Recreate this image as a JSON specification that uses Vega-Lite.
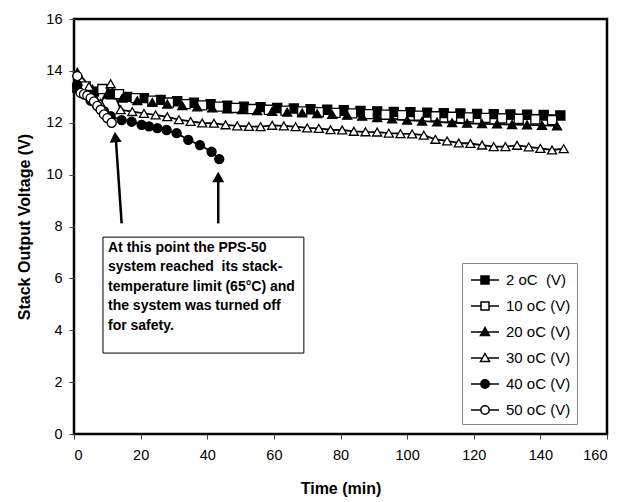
{
  "$schema": "https://vega.github.io/schema/vega-lite/v6.json",
  "width": 533,
  "height": 415,
  "autosize": {"type": "none"},
  "padding": {"left": 74, "top": 19, "right": 27, "bottom": 68},
  "background": "white",
  "config": {
    "font": "Liberation Sans",
    "view": {"stroke": "black", "strokeWidth": 2.5},
    "axis": {
      "grid": false,
      "domain": false,
      "labelFont": "Liberation Sans",
      "labelFontSize": 14.5,
      "labelColor": "black",
      "tickColor": "#444",
      "tickSize": 5,
      "titleFont": "Liberation Sans",
      "titleFontSize": 16,
      "titleFontWeight": "bold",
      "titleColor": "black"
    }
  },
  "datasets": {
    "series": [
      {"s": "2 oC\u00a0 (V)", "t": 1, "v": 13.35},
      {"s": "2 oC\u00a0 (V)", "t": 6, "v": 13.2},
      {"s": "2 oC\u00a0 (V)", "t": 11, "v": 13.1},
      {"s": "2 oC\u00a0 (V)", "t": 16, "v": 13.0},
      {"s": "2 oC\u00a0 (V)", "t": 21, "v": 12.95},
      {"s": "2 oC\u00a0 (V)", "t": 26, "v": 12.88},
      {"s": "2 oC\u00a0 (V)", "t": 31, "v": 12.83},
      {"s": "2 oC\u00a0 (V)", "t": 36, "v": 12.77},
      {"s": "2 oC\u00a0 (V)", "t": 41, "v": 12.72},
      {"s": "2 oC\u00a0 (V)", "t": 46, "v": 12.66},
      {"s": "2 oC\u00a0 (V)", "t": 51, "v": 12.62},
      {"s": "2 oC\u00a0 (V)", "t": 56, "v": 12.6},
      {"s": "2 oC\u00a0 (V)", "t": 61, "v": 12.57},
      {"s": "2 oC\u00a0 (V)", "t": 66, "v": 12.55},
      {"s": "2 oC\u00a0 (V)", "t": 71, "v": 12.52},
      {"s": "2 oC\u00a0 (V)", "t": 76, "v": 12.5},
      {"s": "2 oC\u00a0 (V)", "t": 81, "v": 12.48},
      {"s": "2 oC\u00a0 (V)", "t": 86, "v": 12.46},
      {"s": "2 oC\u00a0 (V)", "t": 91, "v": 12.44},
      {"s": "2 oC\u00a0 (V)", "t": 96, "v": 12.42},
      {"s": "2 oC\u00a0 (V)", "t": 101, "v": 12.41},
      {"s": "2 oC\u00a0 (V)", "t": 106, "v": 12.39},
      {"s": "2 oC\u00a0 (V)", "t": 111, "v": 12.37},
      {"s": "2 oC\u00a0 (V)", "t": 116, "v": 12.36},
      {"s": "2 oC\u00a0 (V)", "t": 121, "v": 12.34},
      {"s": "2 oC\u00a0 (V)", "t": 126, "v": 12.33},
      {"s": "2 oC\u00a0 (V)", "t": 131, "v": 12.32},
      {"s": "2 oC\u00a0 (V)", "t": 136, "v": 12.31},
      {"s": "2 oC\u00a0 (V)", "t": 141, "v": 12.3},
      {"s": "2 oC\u00a0 (V)", "t": 146, "v": 12.28},
      {"s": "10 oC (V)", "t": 3.5, "v": 13.4},
      {"s": "10 oC (V)", "t": 8.5, "v": 13.3},
      {"s": "10 oC (V)", "t": 13.5, "v": 13.1},
      {"s": "10 oC (V)", "t": 18.5, "v": 12.95},
      {"s": "10 oC (V)", "t": 23.5, "v": 12.85},
      {"s": "10 oC (V)", "t": 28.5, "v": 12.78},
      {"s": "10 oC (V)", "t": 33.5, "v": 12.72},
      {"s": "10 oC (V)", "t": 38.5, "v": 12.67},
      {"s": "10 oC (V)", "t": 43.5, "v": 12.62},
      {"s": "10 oC (V)", "t": 48.5, "v": 12.57},
      {"s": "10 oC (V)", "t": 53.5, "v": 12.53},
      {"s": "10 oC (V)", "t": 58.5, "v": 12.5},
      {"s": "10 oC (V)", "t": 63.5, "v": 12.47},
      {"s": "10 oC (V)", "t": 68.5, "v": 12.44},
      {"s": "10 oC (V)", "t": 73.5, "v": 12.41},
      {"s": "10 oC (V)", "t": 78.5, "v": 12.38},
      {"s": "10 oC (V)", "t": 83.5, "v": 12.36},
      {"s": "10 oC (V)", "t": 88.5, "v": 12.33},
      {"s": "10 oC (V)", "t": 93.5, "v": 12.31},
      {"s": "10 oC (V)", "t": 98.5, "v": 12.29},
      {"s": "10 oC (V)", "t": 103.5, "v": 12.27},
      {"s": "10 oC (V)", "t": 108.5, "v": 12.25},
      {"s": "10 oC (V)", "t": 113.5, "v": 12.23},
      {"s": "10 oC (V)", "t": 118.5, "v": 12.21},
      {"s": "10 oC (V)", "t": 123.5, "v": 12.19},
      {"s": "10 oC (V)", "t": 128.5, "v": 12.17},
      {"s": "10 oC (V)", "t": 133.5, "v": 12.15},
      {"s": "10 oC (V)", "t": 138.5, "v": 12.13},
      {"s": "10 oC (V)", "t": 143.5, "v": 12.1},
      {"s": "20 oC (V)", "t": 1, "v": 13.95},
      {"s": "20 oC (V)", "t": 5.5, "v": 13.3},
      {"s": "20 oC (V)", "t": 10, "v": 13.1},
      {"s": "20 oC (V)", "t": 14.5, "v": 12.95},
      {"s": "20 oC (V)", "t": 19, "v": 12.85},
      {"s": "20 oC (V)", "t": 23.5, "v": 12.78},
      {"s": "20 oC (V)", "t": 28, "v": 12.72},
      {"s": "20 oC (V)", "t": 32.5, "v": 12.66},
      {"s": "20 oC (V)", "t": 37, "v": 12.61},
      {"s": "20 oC (V)", "t": 41.5, "v": 12.57},
      {"s": "20 oC (V)", "t": 46, "v": 12.53},
      {"s": "20 oC (V)", "t": 50.5, "v": 12.5},
      {"s": "20 oC (V)", "t": 55, "v": 12.47},
      {"s": "20 oC (V)", "t": 59.5, "v": 12.44},
      {"s": "20 oC (V)", "t": 64, "v": 12.41},
      {"s": "20 oC (V)", "t": 68.5, "v": 12.38},
      {"s": "20 oC (V)", "t": 73, "v": 12.35},
      {"s": "20 oC (V)", "t": 77.5, "v": 12.32},
      {"s": "20 oC (V)", "t": 82, "v": 12.29},
      {"s": "20 oC (V)", "t": 86.5, "v": 12.25},
      {"s": "20 oC (V)", "t": 91, "v": 12.2},
      {"s": "20 oC (V)", "t": 95.5, "v": 12.15},
      {"s": "20 oC (V)", "t": 100, "v": 12.1},
      {"s": "20 oC (V)", "t": 104.5, "v": 12.06},
      {"s": "20 oC (V)", "t": 109, "v": 12.03},
      {"s": "20 oC (V)", "t": 113.5, "v": 12.0},
      {"s": "20 oC (V)", "t": 118, "v": 11.98},
      {"s": "20 oC (V)", "t": 122.5, "v": 11.96},
      {"s": "20 oC (V)", "t": 127, "v": 11.95},
      {"s": "20 oC (V)", "t": 131.5, "v": 11.93},
      {"s": "20 oC (V)", "t": 136, "v": 11.92},
      {"s": "20 oC (V)", "t": 140.5, "v": 11.9},
      {"s": "20 oC (V)", "t": 145, "v": 11.88},
      {"s": "30 oC (V)", "t": 1, "v": 13.6},
      {"s": "30 oC (V)", "t": 4.5, "v": 13.4},
      {"s": "30 oC (V)", "t": 8, "v": 12.75},
      {"s": "30 oC (V)", "t": 11, "v": 13.5},
      {"s": "30 oC (V)", "t": 14, "v": 12.5},
      {"s": "30 oC (V)", "t": 17.5, "v": 12.43},
      {"s": "30 oC (V)", "t": 21, "v": 12.36},
      {"s": "30 oC (V)", "t": 24.5, "v": 12.3},
      {"s": "30 oC (V)", "t": 28, "v": 12.23},
      {"s": "30 oC (V)", "t": 31.5, "v": 12.12},
      {"s": "30 oC (V)", "t": 35, "v": 12.05},
      {"s": "30 oC (V)", "t": 38.5, "v": 11.99},
      {"s": "30 oC (V)", "t": 42, "v": 11.98},
      {"s": "30 oC (V)", "t": 45.5, "v": 11.92},
      {"s": "30 oC (V)", "t": 49, "v": 11.88},
      {"s": "30 oC (V)", "t": 52.5, "v": 11.86},
      {"s": "30 oC (V)", "t": 56, "v": 11.85},
      {"s": "30 oC (V)", "t": 59.5, "v": 11.9},
      {"s": "30 oC (V)", "t": 63, "v": 11.88},
      {"s": "30 oC (V)", "t": 66.5, "v": 11.85},
      {"s": "30 oC (V)", "t": 70, "v": 11.8},
      {"s": "30 oC (V)", "t": 73.5, "v": 11.78},
      {"s": "30 oC (V)", "t": 77, "v": 11.73},
      {"s": "30 oC (V)", "t": 80.5, "v": 11.72},
      {"s": "30 oC (V)", "t": 84, "v": 11.67},
      {"s": "30 oC (V)", "t": 87.5, "v": 11.65},
      {"s": "30 oC (V)", "t": 91, "v": 11.64},
      {"s": "30 oC (V)", "t": 94.5, "v": 11.6},
      {"s": "30 oC (V)", "t": 98, "v": 11.58},
      {"s": "30 oC (V)", "t": 101.5, "v": 11.57},
      {"s": "30 oC (V)", "t": 105, "v": 11.52},
      {"s": "30 oC (V)", "t": 108.5, "v": 11.36},
      {"s": "30 oC (V)", "t": 112, "v": 11.3},
      {"s": "30 oC (V)", "t": 115.5, "v": 11.22},
      {"s": "30 oC (V)", "t": 119, "v": 11.2},
      {"s": "30 oC (V)", "t": 122.5, "v": 11.14},
      {"s": "30 oC (V)", "t": 126, "v": 11.08},
      {"s": "30 oC (V)", "t": 129.5, "v": 11.08},
      {"s": "30 oC (V)", "t": 133, "v": 11.13},
      {"s": "30 oC (V)", "t": 136.5, "v": 11.07},
      {"s": "30 oC (V)", "t": 140, "v": 11.01},
      {"s": "30 oC (V)", "t": 143.5, "v": 10.95},
      {"s": "30 oC (V)", "t": 147, "v": 11.0},
      {"s": "40 oC (V)", "t": 1, "v": 13.45},
      {"s": "40 oC (V)", "t": 3, "v": 13.1},
      {"s": "40 oC (V)", "t": 5, "v": 12.85},
      {"s": "40 oC (V)", "t": 7, "v": 12.65},
      {"s": "40 oC (V)", "t": 9, "v": 12.45},
      {"s": "40 oC (V)", "t": 11, "v": 12.25},
      {"s": "40 oC (V)", "t": 14.3, "v": 12.1},
      {"s": "40 oC (V)", "t": 17.3, "v": 12.04},
      {"s": "40 oC (V)", "t": 20.3, "v": 11.92},
      {"s": "40 oC (V)", "t": 22.5, "v": 11.86},
      {"s": "40 oC (V)", "t": 25, "v": 11.79},
      {"s": "40 oC (V)", "t": 27.8, "v": 11.72},
      {"s": "40 oC (V)", "t": 30.8, "v": 11.6},
      {"s": "40 oC (V)", "t": 34.3, "v": 11.34},
      {"s": "40 oC (V)", "t": 37.8, "v": 11.14},
      {"s": "40 oC (V)", "t": 41.3, "v": 10.88},
      {"s": "40 oC (V)", "t": 43.6, "v": 10.6},
      {"s": "50 oC (V)", "t": 1, "v": 13.8},
      {"s": "50 oC (V)", "t": 2, "v": 13.15},
      {"s": "50 oC (V)", "t": 3, "v": 13.1},
      {"s": "50 oC (V)", "t": 4, "v": 13.05},
      {"s": "50 oC (V)", "t": 5, "v": 12.95},
      {"s": "50 oC (V)", "t": 6, "v": 12.82},
      {"s": "50 oC (V)", "t": 7, "v": 12.65},
      {"s": "50 oC (V)", "t": 8, "v": 12.5},
      {"s": "50 oC (V)", "t": 9, "v": 12.32},
      {"s": "50 oC (V)", "t": 10, "v": 12.18},
      {"s": "50 oC (V)", "t": 11.3, "v": 12.0}
    ],
    "arrows": [
      {"t": 14.3, "v": 8.12, "t2": 12.6, "v2": 11.3},
      {"t": 43.3, "v": 8.12, "t2": 43.3, "v2": 9.8}
    ],
    "heads": [
      {"t": 12.4, "v": 11.45, "a": -4.2},
      {"t": 43.3, "v": 9.91, "a": 0}
    ],
    "note": [
      {"t": 8.7, "v": 7.59, "t2": 69, "v2": 3.12, "tx": 10.2, "ty": 7.45}
    ]
  },
  "layer": [
    {
      "data": {"name": "note"},
      "mark": {"type": "rect", "fill": "white", "stroke": "black", "strokeWidth": 1},
      "encoding": {
        "x": {"field": "t", "type": "quantitative", "scale": {"domain": [0, 160], "nice": false}, "axis": {"values": [0, 20, 40, 60, 80, 100, 120, 140, 160], "title": "Time (min)", "titlePadding": 19, "labelPadding": 9}},
        "x2": {"field": "t2"},
        "y": {"field": "v", "type": "quantitative", "scale": {"domain": [0, 16], "nice": false}, "axis": {"values": [0, 2, 4, 6, 8, 10, 12, 14, 16], "title": "Stack Output Voltage (V)", "titlePadding": 13, "labelPadding": 7}},
        "y2": {"field": "v2"}
      }
    },
    {
      "data": {"name": "note"},
      "mark": {
        "type": "text",
        "align": "left",
        "baseline": "top",
        "font": "Liberation Sans",
        "fontSize": 14,
        "fontWeight": "bold",
        "lineHeight": 19.5,
        "color": "black",
        "text": ["At this point the PPS-50", "system reached\u00a0 its stack-", "temperature limit (65°C) and", "the system was turned off", "for safety."]
      },
      "encoding": {
        "x": {"field": "tx", "type": "quantitative"},
        "y": {"field": "ty", "type": "quantitative"}
      }
    },
    {
      "data": {"name": "arrows"},
      "mark": {"type": "rule", "color": "black", "strokeWidth": 2.5},
      "encoding": {
        "x": {"field": "t", "type": "quantitative"},
        "x2": {"field": "t2"},
        "y": {"field": "v", "type": "quantitative"},
        "y2": {"field": "v2"}
      }
    },
    {
      "data": {"name": "heads"},
      "mark": {"type": "point", "shape": "triangle-up", "filled": true, "color": "black", "size": 144, "opacity": 1},
      "encoding": {
        "x": {"field": "t", "type": "quantitative"},
        "y": {"field": "v", "type": "quantitative"},
        "angle": {"field": "a", "type": "quantitative", "scale": null}
      }
    },
    {
      "data": {"name": "series"},
      "mark": {"type": "line", "color": "black", "strokeWidth": 1.8},
      "encoding": {
        "x": {"field": "t", "type": "quantitative"},
        "y": {"field": "v", "type": "quantitative"},
        "detail": {"field": "s", "type": "nominal"},
        "order": {"field": "t", "type": "quantitative"}
      }
    },
    {
      "data": {"name": "series"},
      "mark": {"type": "point", "filled": false, "stroke": "black", "strokeWidth": 1.3, "size": 82, "opacity": 1},
      "encoding": {
        "x": {"field": "t", "type": "quantitative"},
        "y": {"field": "v", "type": "quantitative"},
        "shape": {"field": "s", "type": "nominal", "legend": null, "scale": {"domain": ["2 oC\u00a0 (V)", "10 oC (V)", "20 oC (V)", "30 oC (V)", "40 oC (V)", "50 oC (V)"], "range": ["square", "square", "triangle-up", "triangle-up", "circle", "circle"]}},
        "fill": {"field": "s", "type": "nominal", "legend": null, "scale": {"domain": ["2 oC\u00a0 (V)", "10 oC (V)", "20 oC (V)", "30 oC (V)", "40 oC (V)", "50 oC (V)"], "range": ["black", "white", "black", "white", "black", "white"]}}
      }
    },
    {
      "data": {"name": "series"},
      "mark": {"type": "point", "filled": true, "stroke": "black", "size": 400, "opacity": 0},
      "encoding": {
        "x": {"field": "t", "type": "quantitative"},
        "y": {"field": "v", "type": "quantitative"},
        "shape": {
          "field": "s", "type": "nominal",
          "scale": {"domain": ["2 oC\u00a0 (V)", "10 oC (V)", "20 oC (V)", "30 oC (V)", "40 oC (V)", "50 oC (V)"],
            "range": [
              "M-1.4,0H-0.4M0.4,0H1.4M-0.4,-0.4H0.4V0.4H-0.4Z",
              "M-1.4,0H-0.4M0.4,0H1.4M-0.4,-0.4H0.4V0.4H-0.4Z",
              "M-1.4,0H-0.25M0.25,0H1.4M0,-0.45L0.45,0.35H-0.45Z",
              "M-1.4,0H-0.25M0.25,0H1.4M0,-0.45L0.45,0.35H-0.45Z",
              "M-1.4,0H-0.42M0.42,0H1.4M0.42,0A0.42,0.42 0 1 1 -0.42,0A0.42,0.42 0 1 1 0.42,0Z",
              "M-1.4,0H-0.42M0.42,0H1.4M0.42,0A0.42,0.42 0 1 1 -0.42,0A0.42,0.42 0 1 1 0.42,0Z"
            ]},
          "legend": {
            "orient": "none", "legendX": 388, "legendY": 244, "title": null,
            "fillColor": "white", "strokeColor": "#888", "padding": 6,
            "symbolSize": 400, "symbolOpacity": 1,
            "labelFont": "Liberation Sans", "labelFontSize": 15, "labelColor": "black",
            "labelOffset": 10, "rowPadding": 7, "symbolOffset": 6,
            "encode": {"symbols": {"update": {"stroke": {"value": "black"}, "strokeWidth": {"value": 1.3}, "opacity": {"value": 1}}}}
          }
        },
        "fill": {
          "field": "s", "type": "nominal",
          "scale": {"domain": ["2 oC\u00a0 (V)", "10 oC (V)", "20 oC (V)", "30 oC (V)", "40 oC (V)", "50 oC (V)"], "range": ["black", "white", "black", "white", "black", "white"]},
          "legend": {
            "orient": "none", "legendX": 388, "legendY": 244, "title": null,
            "fillColor": "white", "strokeColor": "#888", "padding": 6,
            "symbolSize": 400, "symbolOpacity": 1,
            "labelFont": "Liberation Sans", "labelFontSize": 15, "labelColor": "black",
            "labelOffset": 10, "rowPadding": 7, "symbolOffset": 6,
            "encode": {"symbols": {"update": {"stroke": {"value": "black"}, "strokeWidth": {"value": 1.3}, "opacity": {"value": 1}}}}
          }
        }
      }
    }
  ],
  "resolve": {"scale": {"shape": "independent", "fill": "independent"}}
}
